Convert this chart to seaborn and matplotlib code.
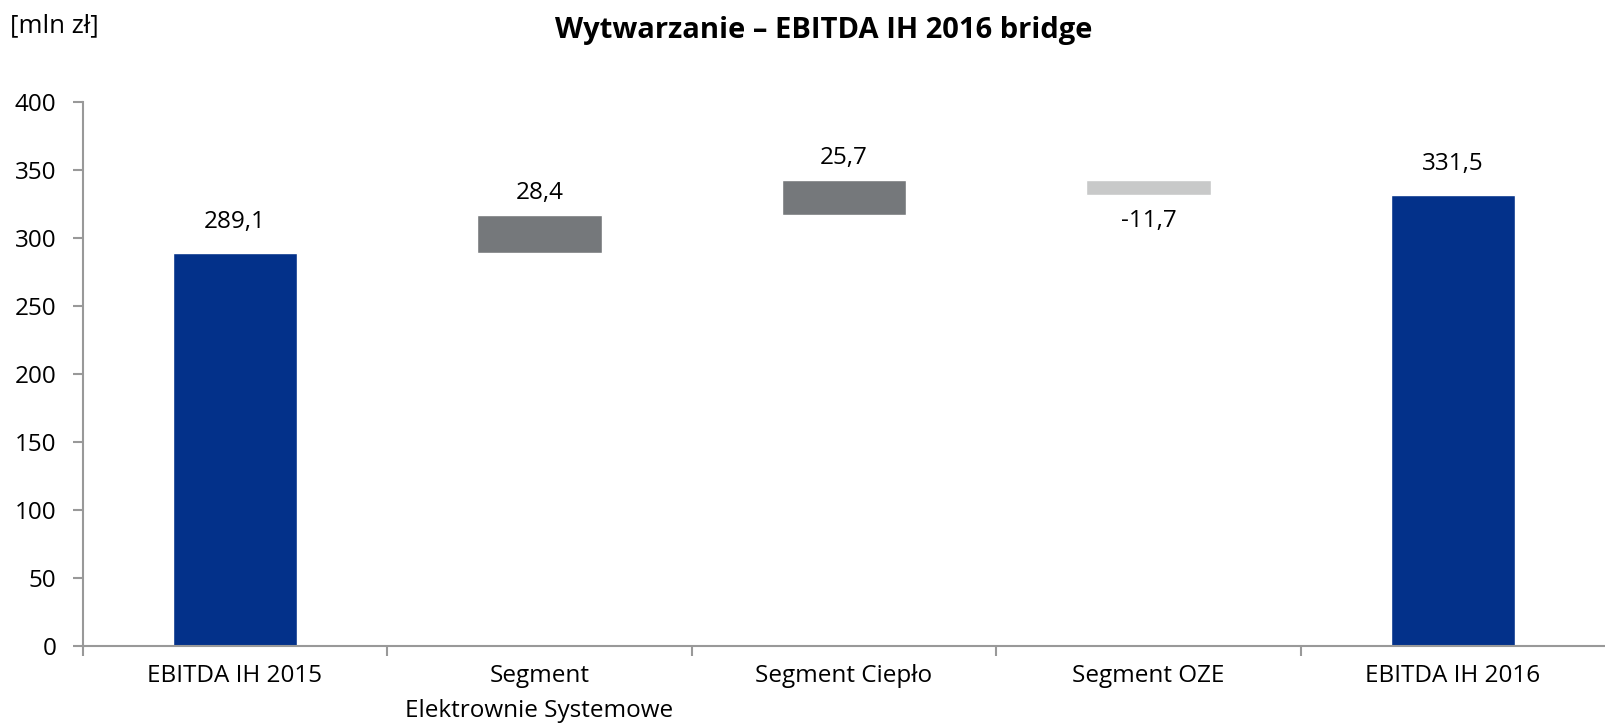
import matplotlib
matplotlib.use("Agg")
import matplotlib.pyplot as plt
import seaborn as sns
import pandas as pd
from matplotlib.ticker import FixedLocator

categories = ["EBITDA IH 2015", "Segment\nElektrownie Systemowe", "Segment Ciepło",
              "Segment OZE", "EBITDA IH 2016"]
changes = [289.1, 28.4, 25.7, -11.7, 331.5]
is_total = [True, False, False, False, True]
labels = ["289,1", "28,4", "25,7", "-11,7", "331,5"]
colors = ["#03318A", "#75787B", "#75787B", "#C8C9C9", "#03318A"]

# running bottoms for the bridge
bottoms = []
running = 0.0
for val, tot in zip(changes, is_total):
    if tot:
        bottoms.append(0.0)
        running = val
    else:
        bottoms.append(min(running, running + val))
        running += val

df = pd.DataFrame({"cat": categories, "height": [abs(v) for v in changes]})

sns.set_style("white")
plt.rcParams["font.family"] = ["Open Sans", "DejaVu Sans"]
plt.rcParams["text.color"] = "black"
plt.rcParams["xtick.labelcolor"] = "black"
plt.rcParams["ytick.labelcolor"] = "black"

fig = plt.figure(figsize=(16.06, 7.26), dpi=100)
ax = fig.add_axes([0.0515, 0.110, 0.948, 0.749])

sns.barplot(data=df, x="cat", y="height", hue="cat", palette=colors,
            legend=False, width=0.41, saturation=1, ax=ax)

for patch, b in zip(ax.patches, bottoms):
    patch.set_y(b)

for i, (val, tot, b, lab) in enumerate(zip(changes, is_total, bottoms, labels)):
    top = b + abs(val)
    if val < 0:
        ax.annotate(lab, (i, b), xytext=(0, -10), textcoords="offset points",
                    ha="center", va="top", fontsize=17.5)
    else:
        off = 14 if tot else 7
        ax.annotate(lab, (i, top), xytext=(0, off), textcoords="offset points",
                    ha="center", va="bottom", fontsize=17.5)

ax.set_ylim(0, 400)
ax.set_xlim(-0.5, 4.5)
ax.set_yticks(range(0, 401, 50))
ax.set_xlabel("")
ax.set_ylabel("")

ax.xaxis.set_minor_locator(FixedLocator([-0.5, 0.5, 1.5, 2.5, 3.5]))
ax.tick_params(axis="x", which="major", length=0, pad=13, labelsize=17.5)
ax.tick_params(axis="x", which="minor", length=7, color="#999999", width=1.5, direction="out", bottom=True)
ax.tick_params(axis="y", length=7, color="#999999", width=1.5, direction="out", left=True,
               labelsize=17.5, pad=12)
for t in ax.get_xticklabels():
    t.set_linespacing(1.6)

for s in ["top", "right"]:
    ax.spines[s].set_visible(False)
for s in ["left", "bottom"]:
    ax.spines[s].set_color("#999999")
    ax.spines[s].set_linewidth(1.5)

fig.text(0.513, 0.958, "Wytwarzanie – EBITDA IH 2016 bridge", ha="center", va="center",
         fontsize=21, fontweight="bold")
fig.text(0.006, 0.965, "[mln zł]", ha="left", va="center", fontsize=18.5)

fig.savefig("out.png", dpi=100)
